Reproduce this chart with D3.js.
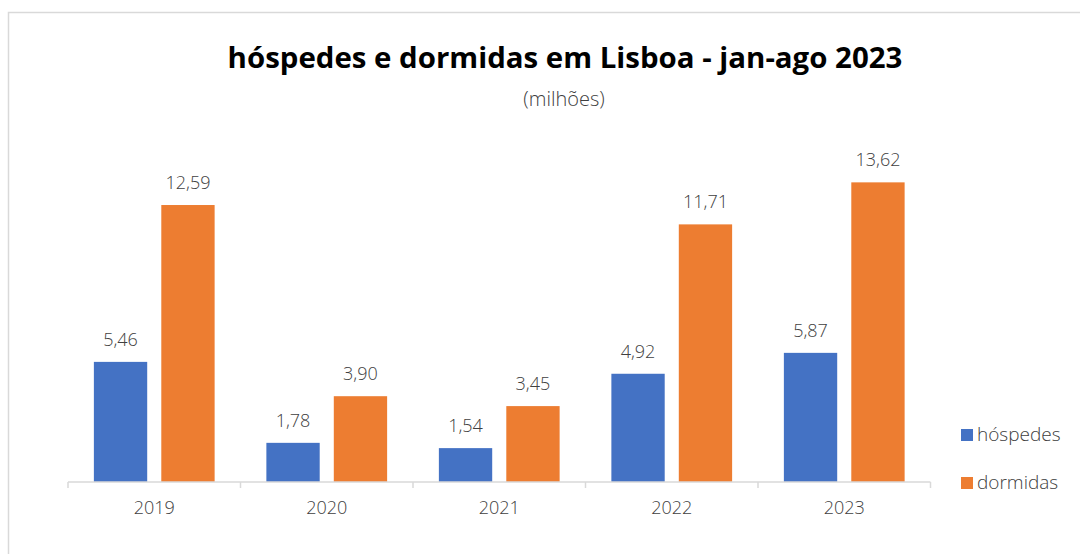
<!DOCTYPE html>
<html>
<head>
<meta charset="utf-8">
<script src="https://cdn.jsdelivr.net/npm/d3@7"></script>
<style>
  html, body { margin: 0; padding: 0; background: #fff; }
  svg { display: block; }
  text { font-family: "Open Sans", "Noto Sans", sans-serif; }
</style>
</head>
<body>
<svg id="chart" width="1080" height="554"></svg>
<script>
// Guests and overnight stays in Lisbon, Jan–Aug (millions)
const years = ["2019", "2020", "2021", "2022", "2023"];
const hospedes = [5.46, 1.78, 1.54, 4.92, 5.87];
const dormidas = [12.59, 3.90, 3.45, 11.71, 13.62];
const seriesNames = ["hóspedes", "dormidas"];
const seriesColors = ["#4472C4", "#ED7D31"];

const svg = d3.select("#chart");

// outer frame (right and bottom edges fall outside the view)
svg.append("rect")
  .attr("x", 8.5).attr("y", 12.5)
  .attr("width", 1200).attr("height", 700)
  .attr("fill", "#fff").attr("stroke", "#D9D9D9").attr("stroke-width", 1.5);

const plot = { left: 68, right: 930.5, base: 482 };

const x = d3.scaleBand().domain(years).range([plot.left, plot.right]).padding(0);
const xs = d3.scaleBand().domain(seriesNames)
  .range([x.bandwidth() * 0.15, x.bandwidth() * 0.85])
  .paddingInner(0.209).paddingOuter(0);
const y = d3.scaleLinear().domain([0, 14]).range([plot.base, plot.base - 14 * 22]);

const rows = years.map((yr, i) => ({ year: yr, values: [hospedes[i], dormidas[i]] }));
const fmt = v => d3.format(".2f")(v).replace(".", ",");

const groups = svg.append("g").selectAll("g")
  .data(rows).join("g")
  .attr("transform", d => `translate(${x(d.year)},0)`);

groups.selectAll("rect")
  .data(d => d.values.map((v, k) => ({ v, k })))
  .join("rect")
  .attr("x", d => xs(seriesNames[d.k]))
  .attr("width", xs.bandwidth())
  .attr("y", d => y(d.v))
  .attr("height", d => y(0) - y(d.v))
  .attr("fill", d => seriesColors[d.k]);

groups.selectAll("text.val")
  .data(d => d.values.map((v, k) => ({ v, k })))
  .join("text")
  .attr("class", "val")
  .attr("x", d => xs(seriesNames[d.k]) + xs.bandwidth() / 2)
  .attr("y", d => y(d.v) - 16)
  .attr("text-anchor", "middle")
  .attr("font-size", 18)
  .attr("font-weight", 300)
  .attr("fill", "#404040")
  .text(d => fmt(d.v));

// category axis with boundary ticks
const axis = svg.append("g").attr("transform", `translate(0,${plot.base})`);
axis.call(d3.axisBottom(x).tickSize(0).tickPadding(18));
axis.select(".domain").attr("stroke", "#D9D9D9").attr("stroke-width", 1.5)
  .attr("d", `M${plot.left},0H${plot.right}`);
axis.selectAll(".tick text")
  .attr("font-size", 18).attr("font-weight", 300)
  .attr("fill", "#404040").attr("font-family", null)
  .attr("dy", null).attr("y", 32);
const bounds = years.map(d => x(d)).concat([x(years[years.length - 1]) + x.bandwidth()]);
axis.selectAll("line.bound").data(bounds).join("line")
  .attr("class", "bound")
  .attr("x1", d => d).attr("x2", d => d)
  .attr("y1", 0).attr("y2", 6)
  .attr("stroke", "#D9D9D9").attr("stroke-width", 1.5);

// title and subtitle
const title = svg.append("text")
  .attr("x", 565).attr("y", 68)
  .attr("text-anchor", "middle")
  .attr("font-size", 30).attr("font-weight", 700)
  .attr("fill", "#000")
  .text("hóspedes e dormidas em Lisboa - jan-ago 2023");
const tw = title.node().getComputedTextLength();
title.attr("font-size", 30 * 675 / tw);

svg.append("text")
  .attr("x", 564).attr("y", 106)
  .attr("text-anchor", "middle")
  .attr("font-size", 20).attr("font-weight", 300)
  .attr("fill", "#404040")
  .text("(milhões)");

// legend
const legend = svg.append("g").selectAll("g")
  .data(seriesNames).join("g")
  .attr("transform", (d, i) => `translate(961,${429 + i * 48})`);
legend.append("rect").attr("width", 12).attr("height", 12)
  .attr("fill", (d, i) => seriesColors[i]);
legend.append("text")
  .attr("x", 16).attr("y", 12)
  .attr("font-size", 19).attr("font-weight", 300)
  .attr("fill", "#404040")
  .text(d => d);
</script>
</body>
</html>
